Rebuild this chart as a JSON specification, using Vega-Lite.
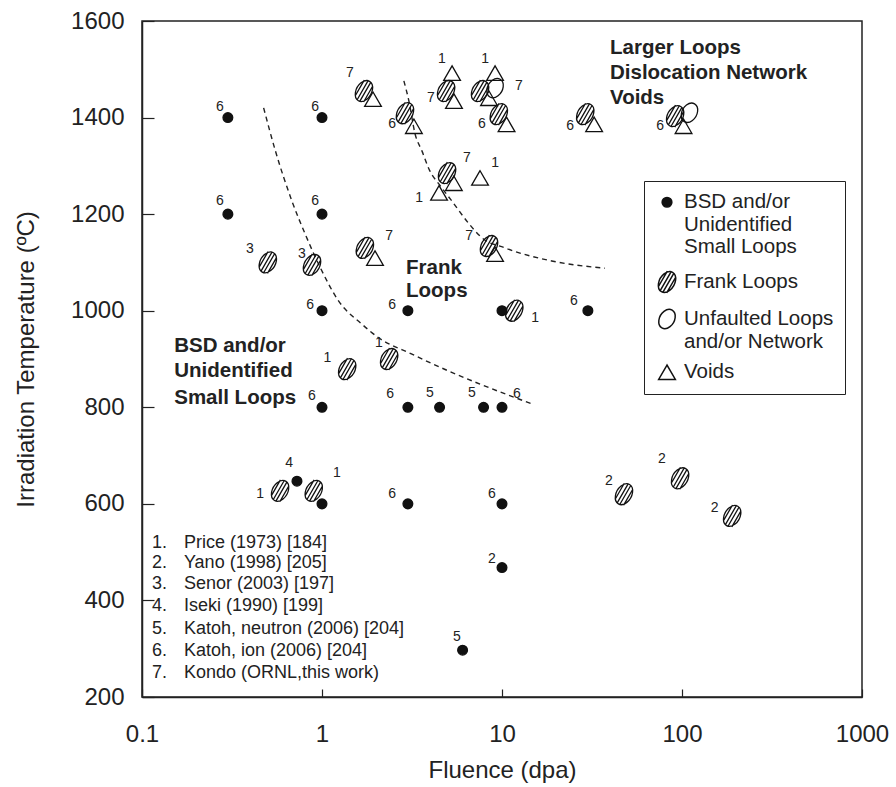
{
  "$schema": "https://vega.github.io/schema/vega-lite/v6.json",
  "width": 720,
  "height": 676,
  "padding": {"left": 14, "top": 9, "right": 10, "bottom": 5},
  "background": "white",
  "config": {
    "font": "Liberation Sans",
    "view": {"stroke": "#222", "strokeWidth": 1.5},
    "axis": {"grid": false, "domainColor": "#222", "domainWidth": 1.5, "tickColor": "#222", "tickWidth": 1.2, "labelColor": "#222", "labelFontSize": 24, "titleFontSize": 24, "titleFontWeight": "normal", "titleColor": "#222", "labelFont": "Liberation Sans", "titleFont": "Liberation Sans"}
  },
  "datasets": {
    "pts": [
      {"fluence": 0.3, "temp": 1400, "type": "BSD"},
      {"fluence": 1, "temp": 1400, "type": "BSD"},
      {"fluence": 0.3, "temp": 1200, "type": "BSD"},
      {"fluence": 1, "temp": 1200, "type": "BSD"},
      {"fluence": 1, "temp": 1000, "type": "BSD"},
      {"fluence": 3, "temp": 1000, "type": "BSD"},
      {"fluence": 10, "temp": 1000, "type": "BSD"},
      {"fluence": 30, "temp": 1000, "type": "BSD"},
      {"fluence": 1, "temp": 800, "type": "BSD"},
      {"fluence": 3, "temp": 800, "type": "BSD"},
      {"fluence": 4.5, "temp": 800, "type": "BSD"},
      {"fluence": 7.9, "temp": 800, "type": "BSD"},
      {"fluence": 10, "temp": 800, "type": "BSD"},
      {"fluence": 0.726, "temp": 647, "type": "BSD"},
      {"fluence": 1, "temp": 600, "type": "BSD"},
      {"fluence": 3, "temp": 600, "type": "BSD"},
      {"fluence": 10, "temp": 600, "type": "BSD"},
      {"fluence": 10, "temp": 468, "type": "BSD"},
      {"fluence": 6.04, "temp": 297, "type": "BSD"},
      {"fluence": 0.5, "temp": 1100, "type": "Frank"},
      {"fluence": 0.88, "temp": 1095, "type": "Frank"},
      {"fluence": 1.73, "temp": 1130, "type": "Frank"},
      {"fluence": 1.71, "temp": 1455, "type": "Frank"},
      {"fluence": 2.89, "temp": 1409, "type": "Frank"},
      {"fluence": 4.89, "temp": 1455, "type": "Frank"},
      {"fluence": 7.55, "temp": 1455, "type": "Frank"},
      {"fluence": 9.6, "temp": 1407, "type": "Frank"},
      {"fluence": 29, "temp": 1407, "type": "Frank"},
      {"fluence": 91.6, "temp": 1403, "type": "Frank"},
      {"fluence": 4.95, "temp": 1285, "type": "Frank"},
      {"fluence": 8.47, "temp": 1134, "type": "Frank"},
      {"fluence": 1.38, "temp": 879, "type": "Frank"},
      {"fluence": 2.36, "temp": 900, "type": "Frank"},
      {"fluence": 11.7, "temp": 1000, "type": "Frank"},
      {"fluence": 0.585, "temp": 627, "type": "Frank"},
      {"fluence": 0.9, "temp": 627, "type": "Frank"},
      {"fluence": 47.6, "temp": 620, "type": "Frank"},
      {"fluence": 97.6, "temp": 653, "type": "Frank"},
      {"fluence": 190, "temp": 575, "type": "Frank"},
      {"fluence": 9.15, "temp": 1461, "type": "Unfaulted"},
      {"fluence": 110, "temp": 1410, "type": "Unfaulted"},
      {"fluence": 1.92, "temp": 1438, "type": "Voids"},
      {"fluence": 3.24, "temp": 1382, "type": "Voids"},
      {"fluence": 5.41, "temp": 1434, "type": "Voids"},
      {"fluence": 5.28, "temp": 1492, "type": "Voids"},
      {"fluence": 9.15, "temp": 1492, "type": "Voids"},
      {"fluence": 8.47, "temp": 1440, "type": "Voids"},
      {"fluence": 10.6, "temp": 1386, "type": "Voids"},
      {"fluence": 32.5, "temp": 1386, "type": "Voids"},
      {"fluence": 102, "temp": 1382, "type": "Voids"},
      {"fluence": 5.4, "temp": 1264, "type": "Voids"},
      {"fluence": 4.47, "temp": 1244, "type": "Voids"},
      {"fluence": 7.55, "temp": 1275, "type": "Voids"},
      {"fluence": 1.97, "temp": 1109, "type": "Voids"},
      {"fluence": 9.15, "temp": 1117, "type": "Voids"}
    ],
    "lbl": [
      {"x": 0.271, "t": 1422, "s": "6"},
      {"x": 0.915, "t": 1422, "s": "6"},
      {"x": 0.271, "t": 1227, "s": "6"},
      {"x": 0.915, "t": 1227, "s": "6"},
      {"x": 0.858, "t": 1012, "s": "6"},
      {"x": 2.45, "t": 1012, "s": "6"},
      {"x": 25.1, "t": 1020, "s": "6"},
      {"x": 0.88, "t": 823, "s": "6"},
      {"x": 2.39, "t": 828, "s": "6"},
      {"x": 3.98, "t": 830, "s": "5"},
      {"x": 6.81, "t": 830, "s": "5"},
      {"x": 12.1, "t": 828, "s": "6"},
      {"x": 0.656, "t": 685, "s": "4"},
      {"x": 1.21, "t": 664, "s": "1"},
      {"x": 0.453, "t": 620, "s": "1"},
      {"x": 2.45, "t": 620, "s": "6"},
      {"x": 8.8, "t": 620, "s": "6"},
      {"x": 8.8, "t": 486, "s": "2"},
      {"x": 5.62, "t": 324, "s": "5"},
      {"x": 0.398, "t": 1128, "s": "3"},
      {"x": 0.774, "t": 1117, "s": "3"},
      {"x": 2.36, "t": 1155, "s": "7"},
      {"x": 1.43, "t": 1492, "s": "7"},
      {"x": 2.45, "t": 1387, "s": "6"},
      {"x": 4.03, "t": 1441, "s": "7"},
      {"x": 12.4, "t": 1465, "s": "7"},
      {"x": 7.74, "t": 1387, "s": "6"},
      {"x": 23.9, "t": 1383, "s": "6"},
      {"x": 75.5, "t": 1383, "s": "6"},
      {"x": 6.39, "t": 1316, "s": "7"},
      {"x": 9.15, "t": 1306, "s": "1"},
      {"x": 3.46, "t": 1233, "s": "1"},
      {"x": 6.56, "t": 1155, "s": "7"},
      {"x": 1.07, "t": 902, "s": "1"},
      {"x": 2.07, "t": 933, "s": "1"},
      {"x": 15.3, "t": 985, "s": "1"},
      {"x": 4.64, "t": 1521, "s": "1"},
      {"x": 8.05, "t": 1521, "s": "1"},
      {"x": 39.3, "t": 647, "s": "2"},
      {"x": 77.4, "t": 693, "s": "2"},
      {"x": 152, "t": 591, "s": "2"}
    ],
    "notes": [
      {"x": 39.8, "t": 1544, "s": "Larger Loops"},
      {"x": 39.8, "t": 1492, "s": "Dislocation Network"},
      {"x": 39.8, "t": 1441, "s": "Voids"},
      {"x": 2.93, "t": 1088, "s": "Frank"},
      {"x": 2.93, "t": 1041, "s": "Loops"},
      {"x": 0.151, "t": 927, "s": "BSD and/or"},
      {"x": 0.151, "t": 875, "s": "Unidentified"},
      {"x": 0.151, "t": 819, "s": "Small Loops"}
    ],
    "refs": [
      {"n": "1.", "s": "Price (1973)  [184]", "t": 519},
      {"n": "2.", "s": "Yano (1998) [205]", "t": 478},
      {"n": "3.", "s": "Senor (2003)  [197]", "t": 434},
      {"n": "4.", "s": "Iseki (1990)  [199]", "t": 388},
      {"n": "5.", "s": "Katoh, neutron (2006)  [204]", "t": 341},
      {"n": "6.", "s": "Katoh, ion (2006) [204]", "t": 295},
      {"n": "7.", "s": "Kondo (ORNL,this work)", "t": 250}
    ],
    "curves": [
      {"c": "a", "x": 0.474, "t": 1420},
      {"c": "a", "x": 0.551, "t": 1331},
      {"c": "a", "x": 0.681, "t": 1227},
      {"c": "a", "x": 0.808, "t": 1158},
      {"c": "a", "x": 0.979, "t": 1089},
      {"c": "a", "x": 1.238, "t": 1020},
      {"c": "a", "x": 1.668, "t": 972},
      {"c": "a", "x": 2.065, "t": 944},
      {"c": "a", "x": 3.16, "t": 910},
      {"c": "a", "x": 5.06, "t": 875},
      {"c": "a", "x": 7.55, "t": 848},
      {"c": "a", "x": 14.7, "t": 807},
      {"c": "b", "x": 2.85, "t": 1476},
      {"c": "b", "x": 3.04, "t": 1434},
      {"c": "b", "x": 3.29, "t": 1366},
      {"c": "b", "x": 3.59, "t": 1331},
      {"c": "b", "x": 3.98, "t": 1289},
      {"c": "b", "x": 4.47, "t": 1262},
      {"c": "b", "x": 5.27, "t": 1227},
      {"c": "b", "x": 6.56, "t": 1180},
      {"c": "b", "x": 7.74, "t": 1151},
      {"c": "b", "x": 10.4, "t": 1130},
      {"c": "b", "x": 18.9, "t": 1103},
      {"c": "b", "x": 37.3, "t": 1088}
    ]
  },
  "layer": [
    {
      "data": {"name": "curves"},
      "mark": {"type": "line", "strokeDash": [5, 4], "strokeWidth": 1.4, "color": "#222", "interpolate": "monotone"},
      "encoding": {
        "x": {"field": "x", "type": "quantitative", "scale": {"type": "log", "domain": [0.1, 1000], "nice": false},
          "axis": {"title": "Fluence (dpa)", "values": [0.1, 1, 10, 100, 1000], "format": "~g", "tickSize": -8, "labelPadding": 33, "labelFlush": false, "labelOverlap": false, "labelDx": 3, "titlePadding": 12}},
        "y": {"field": "t", "type": "quantitative", "scale": {"domain": [200, 1600], "nice": false, "zero": false},
          "axis": {"title": "Irradiation Temperature (ºC)", "values": [200, 400, 600, 800, 1000, 1200, 1400, 1600], "format": "d", "tickSize": -12, "labelPadding": 30, "labelFlush": false, "labelOverlap": false, "titlePadding": 32}},
        "detail": {"field": "c"}
      }
    },
    {
      "data": {"name": "pts"},
      "mark": {"type": "point", "opacity": 1, "stroke": "#111", "strokeWidth": 1.3},
      "encoding": {
        "x": {"field": "fluence", "type": "quantitative"},
        "y": {"field": "temp", "type": "quantitative"},
        "shape": {"field": "type", "type": "nominal",
          "scale": {"domain": ["BSD", "Frank", "Unfaulted", "Voids"], "range": ["circle", "M-0.5,0.866A1,0.68,-60,1,1,0.5,-0.866A1,0.68,-60,1,1,-0.5,0.866ZM0.75,-0.38L-0.03,0.98M0.62,-0.8L-0.4,0.97M0.4,-0.97L-0.62,0.8M0.03,-0.98L-0.75,0.38", "M-0.5,0.866A1,0.72,-60,1,1,0.5,-0.866A1,0.72,-60,1,1,-0.5,0.866Z", "triangle-up"]},
          "legend": {"orient": "none", "legendX": 502, "legendY": 160, "title": null, "labelExpr": "datum.label == 'BSD' ? ['BSD and/or', 'Unidentified', 'Small Loops'] : datum.label == 'Frank' ? 'Frank Loops' : datum.label == 'Unfaulted' ? ['Unfaulted Loops', 'and/or Network'] : 'Voids'", "labelFontSize": 20.5, "labelFont": "Liberation Sans", "labelColor": "#222", "strokeColor": "#222", "fillColor": "white", "padding": 11, "rowPadding": 10, "labelLimit": 300, "labelOffset": 5}},
        "fill": {"field": "type", "type": "nominal",
          "scale": {"domain": ["BSD", "Frank", "Unfaulted", "Voids"], "range": ["#111", "transparent", "transparent", "transparent"]},
          "legend": {"orient": "none", "legendX": 502, "legendY": 160, "title": null, "labelExpr": "datum.label == 'BSD' ? ['BSD and/or', 'Unidentified', 'Small Loops'] : datum.label == 'Frank' ? 'Frank Loops' : datum.label == 'Unfaulted' ? ['Unfaulted Loops', 'and/or Network'] : 'Voids'", "labelFontSize": 20.5, "labelFont": "Liberation Sans", "labelColor": "#222", "strokeColor": "#222", "fillColor": "white", "padding": 11, "rowPadding": 10, "labelLimit": 300, "labelOffset": 5}},
        "size": {"field": "type", "type": "nominal",
          "scale": {"type": "ordinal", "domain": ["BSD", "Frank", "Unfaulted", "Voids"], "range": [95, 500, 420, 280]},
          "legend": {"orient": "none", "legendX": 502, "legendY": 160, "title": null, "labelExpr": "datum.label == 'BSD' ? ['BSD and/or', 'Unidentified', 'Small Loops'] : datum.label == 'Frank' ? 'Frank Loops' : datum.label == 'Unfaulted' ? ['Unfaulted Loops', 'and/or Network'] : 'Voids'", "labelFontSize": 20.5, "labelFont": "Liberation Sans", "labelColor": "#222", "strokeColor": "#222", "fillColor": "white", "padding": 11, "rowPadding": 10, "labelLimit": 300, "labelOffset": 5}}
      }
    },
    {
      "data": {"name": "lbl"},
      "mark": {"type": "text", "fontSize": 14, "color": "#222", "align": "center", "baseline": "middle"},
      "encoding": {
        "x": {"field": "x", "type": "quantitative"},
        "y": {"field": "t", "type": "quantitative"},
        "text": {"field": "s"}
      }
    },
    {
      "data": {"name": "notes"},
      "mark": {"type": "text", "fontSize": 20.5, "fontWeight": "bold", "color": "#222", "align": "left", "baseline": "middle"},
      "encoding": {
        "x": {"field": "x", "type": "quantitative"},
        "y": {"field": "t", "type": "quantitative"},
        "text": {"field": "s"}
      }
    },
    {
      "data": {"name": "refs"},
      "mark": {"type": "text", "fontSize": 18, "color": "#222", "align": "left", "baseline": "middle"},
      "encoding": {
        "x": {"datum": 0.1136, "type": "quantitative"},
        "y": {"field": "t", "type": "quantitative"},
        "text": {"field": "n"}
      }
    },
    {
      "data": {"name": "refs"},
      "mark": {"type": "text", "fontSize": 18, "color": "#222", "align": "left", "baseline": "middle"},
      "encoding": {
        "x": {"datum": 0.171, "type": "quantitative"},
        "y": {"field": "t", "type": "quantitative"},
        "text": {"field": "s"}
      }
    }
  ]
}
